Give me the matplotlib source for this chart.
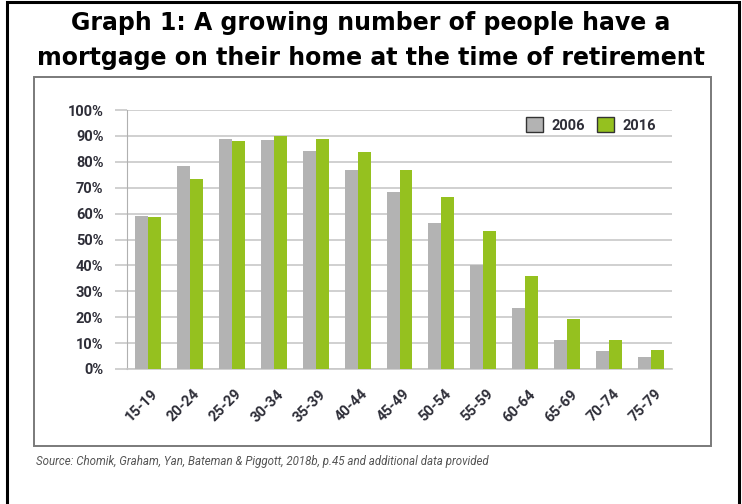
import numpy as np
import matplotlib.pyplot as plt
from matplotlib.patches import Rectangle
from matplotlib.ticker import PercentFormatter
from matplotlib.transforms import ScaledTranslation

# Share of people with a mortgage on their home, by age group
age_groups = ["15-19", "20-24", "25-29", "30-34", "35-39", "40-44", "45-49",
              "50-54", "55-59", "60-64", "65-69", "70-74", "75-79"]
share_2006 = [59, 78.3, 88.8, 88.4, 84.1, 77.0, 68.3, 56.2, 40.0, 23.7, 11.3, 6.8, 4.8]
share_2016 = [58.5, 73.4, 88.0, 90.1, 88.8, 83.7, 77.0, 66.3, 53.2, 36.0, 19.3, 11.3, 7.3]
years = ["2006", "2016"]

GREY = "#b3b3b3"
GREEN = "#95c11f"
TEXT = "#2e2e38"
SANS = ["Roboto", "DejaVu Sans"]

W, H = 742, 504
fig = plt.figure(figsize=(W / 100, H / 100), dpi=100)

# outer black frame and the grey box around the chart
fig.add_artist(Rectangle((7 / W, -0.02), 732 / W, 1.0 - 2 / H + 0.02, transform=fig.transFigure,
                         fill=False, edgecolor="black", linewidth=2.2))
fig.add_artist(Rectangle((34 / W, 1 - 446 / H), 677 / W, 369 / H, transform=fig.transFigure,
                         fill=False, edgecolor="#7a7a7a", linewidth=1.4))

fig.text(0.5, 1 - 23 / H, "Graph 1: A growing number of people have a",
         ha="center", va="center", fontsize=17, fontweight="bold")
fig.text(0.5, 1 - 58 / H, "mortgage on their home at the time of retirement",
         ha="center", va="center", fontsize=17, fontweight="bold")

ax = fig.add_axes([127 / W, 1 - 369 / H, 545 / W, 259 / H])
x = np.arange(len(age_groups))
bw = 0.31
ax.bar(x - bw / 2, np.array(share_2006) / 100, bw, color=GREY, label=years[0], zorder=3)
ax.bar(x + bw / 2, np.array(share_2016) / 100, bw, color=GREEN, label=years[1], zorder=3)

ax.set_xlim(-0.5, len(age_groups) - 0.5)
ax.set_ylim(0, 1)
ax.set_yticks(np.arange(0, 1.01, 0.1))
ax.yaxis.set_major_formatter(PercentFormatter(1.0, decimals=0))
ax.grid(axis="y", color="#c8c8c8", linewidth=1.2, zorder=0)
ax.set_axisbelow(True)

for side in ["top", "right"]:
    ax.spines[side].set_visible(False)
ax.spines["left"].set_color("#b0b0b0")
ax.spines["bottom"].set_color("#c8c8c8")
ax.spines["bottom"].set_linewidth(1.2)
ax.tick_params(axis="y", length=9, color="#c8c8c8", width=1.2, pad=8,
               labelsize=10.5, labelcolor=TEXT)
ax.tick_params(axis="x", length=0, pad=13, labelsize=10.5, labelcolor=TEXT)
for lab in ax.get_yticklabels():
    lab.set_fontweight("bold")
    lab.set_family(SANS)

ax.set_xticks(x)
ax.set_xticklabels(age_groups, rotation=45, ha="right", rotation_mode="anchor",
                   fontweight="bold", family=SANS)
# nudge the slanted labels a little to the right
shift = ScaledTranslation(3 / 100, 0, fig.dpi_scale_trans)
for lab in ax.get_xticklabels():
    lab.set_transform(lab.get_transform() + shift)

leg = ax.legend(ncol=2, loc="center right", bbox_to_anchor=(0.995, 0.942), frameon=False,
                handlelength=1.15, handleheight=1.15, handletextpad=0.6, columnspacing=0.8,
                prop={"family": SANS, "weight": "bold", "size": 10.5})
for t in leg.get_texts():
    t.set_color(TEXT)
for h in leg.legend_handles:
    h.set_edgecolor("#333333")
    h.set_linewidth(1.0)

fig.text(36 / W, 1 - 462 / H,
         "Source: Chomik, Graham, Yan, Bateman & Piggott, 2018b, p.45 and additional data provided",
         ha="left", va="center", fontsize=8.3, style="italic", color="#555555", family=SANS)

fig.savefig("out.png", dpi=100)
